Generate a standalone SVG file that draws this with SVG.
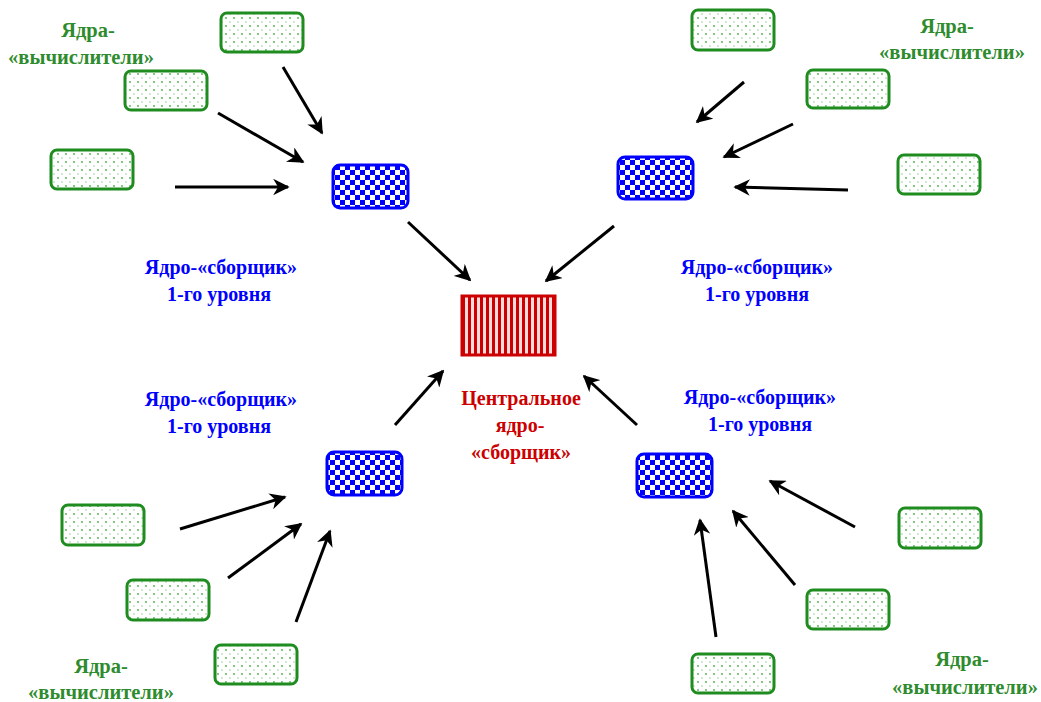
<svg xmlns="http://www.w3.org/2000/svg" width="1041" height="702" viewBox="0 0 1041 702">
<style>
.g{fill:url(#dots);stroke:#1e8c1e;stroke-width:3}
.b{fill:url(#check);stroke:#0000ff;stroke-width:3}
.r{fill:url(#stripes);stroke:#cc0000;stroke-width:3}
.c line{stroke:#000;stroke-width:3;marker-end:url(#ah)}
text{font-family:"Liberation Serif","Times New Roman",serif;font-weight:bold;font-size:20px;text-anchor:middle}
.tg{fill:#2e8b2e;font-size:20.5px}.tb{fill:#0000ff}.tr{fill:#cc0000}
</style>
<defs>
<pattern id="dots" width="8" height="8" patternUnits="userSpaceOnUse"><rect width="8" height="8" fill="#fff"/><circle cx="2" cy="2" r="1" fill="#5cb85c"/><circle cx="6" cy="6" r="0.8" fill="#8fd08f"/></pattern>
<pattern id="check" width="10" height="10" patternUnits="userSpaceOnUse"><rect width="10" height="10" fill="#fff"/><rect width="5" height="5" fill="#0000ff"/><rect x="5" y="5" width="5" height="5" fill="#0000ff"/></pattern>
<pattern id="stripes" width="6" height="6" patternUnits="userSpaceOnUse"><rect width="6" height="6" fill="#f6dcdc"/><rect width="3" height="6" fill="#cc0000"/></pattern>
<marker id="ah" viewBox="0 0 10 10" refX="9" refY="5" markerWidth="5.5" markerHeight="5.5" orient="auto" markerUnits="strokeWidth"><path d="M0,0 L10,5 L0,10 L3,5 Z" fill="#000"/></marker>
</defs>
<rect width="1041" height="702" fill="#fff"/>
<g class="c" id="connectors">
<line x1="283" y1="67" x2="322" y2="133"/>
<line x1="218" y1="113" x2="303" y2="162"/>
<line x1="175" y1="187" x2="288" y2="187"/>
<line x1="408" y1="222" x2="470" y2="280"/>
<line x1="744" y1="82" x2="697" y2="122"/>
<line x1="793" y1="124" x2="724" y2="157"/>
<line x1="848" y1="190" x2="735" y2="187"/>
<line x1="614" y1="226" x2="546" y2="281"/>
<line x1="395" y1="425" x2="443" y2="371"/>
<line x1="180" y1="529" x2="285" y2="497"/>
<line x1="228" y1="578" x2="301" y2="524"/>
<line x1="296" y1="622" x2="330" y2="531"/>
<line x1="637" y1="425" x2="584" y2="376"/>
<line x1="855" y1="527" x2="770" y2="481"/>
<line x1="795" y1="585" x2="733" y2="511"/>
<line x1="716" y1="637" x2="700" y2="520"/>
</g>
<g id="g1"><rect class="g" x="221" y="13" width="82" height="39" rx="6"/></g>
<g id="g2"><rect class="g" x="125" y="71" width="82" height="39" rx="6"/></g>
<g id="g3"><rect class="g" x="51" y="150" width="82" height="39" rx="6"/></g>
<g id="g4"><rect class="g" x="692" y="10" width="82" height="40" rx="6"/></g>
<g id="g5"><rect class="g" x="807" y="70" width="82" height="38" rx="6"/></g>
<g id="g6"><rect class="g" x="898" y="155" width="82" height="39" rx="6"/></g>
<g id="g7"><rect class="g" x="62" y="505" width="82" height="40" rx="6"/></g>
<g id="g8"><rect class="g" x="127" y="580" width="82" height="40" rx="6"/></g>
<g id="g9"><rect class="g" x="215" y="645" width="82" height="39" rx="6"/></g>
<g id="g10"><rect class="g" x="899" y="508" width="82" height="40" rx="6"/></g>
<g id="g11"><rect class="g" x="807" y="590" width="82" height="39" rx="6"/></g>
<g id="g12"><rect class="g" x="692" y="654" width="82" height="39" rx="6"/></g>
<g id="b1"><rect class="b" x="333" y="165" width="75" height="43" rx="7"/></g>
<g id="b2"><rect class="b" x="618" y="157" width="75" height="42" rx="7"/></g>
<g id="b3"><rect class="b" x="327" y="452" width="75" height="43" rx="7"/></g>
<g id="b4"><rect class="b" x="637" y="454" width="75" height="43" rx="7"/></g>
<g id="center"><rect class="r" x="462" y="296" width="93" height="59"/></g>
<g id="labels">
<text class="tg" x="88" y="37">Ядра-</text><text class="tg" x="81" y="64">«вычислители»</text>
<text class="tg" x="947" y="33">Ядра-</text><text class="tg" x="952" y="59">«вычислители»</text>
<text class="tg" x="101" y="673">Ядра-</text><text class="tg" x="101" y="699">«вычислители»</text>
<text class="tg" x="962" y="666">Ядра-</text><text class="tg" x="965" y="694">«вычислители»</text>
<text class="tb" x="221" y="274">Ядро-«сборщик»</text><text class="tb" x="219" y="301">1-го уровня</text>
<text class="tb" x="757" y="274">Ядро-«сборщик»</text><text class="tb" x="757" y="301">1-го уровня</text>
<text class="tb" x="221" y="406">Ядро-«сборщик»</text><text class="tb" x="219" y="433">1-го уровня</text>
<text class="tb" x="760" y="404">Ядро-«сборщик»</text><text class="tb" x="760" y="431">1-го уровня</text>
<text class="tr" x="521" y="405">Центральное</text><text class="tr" x="520" y="432">ядро-</text><text class="tr" x="521" y="459">«сборщик»</text>
</g>
</svg>
